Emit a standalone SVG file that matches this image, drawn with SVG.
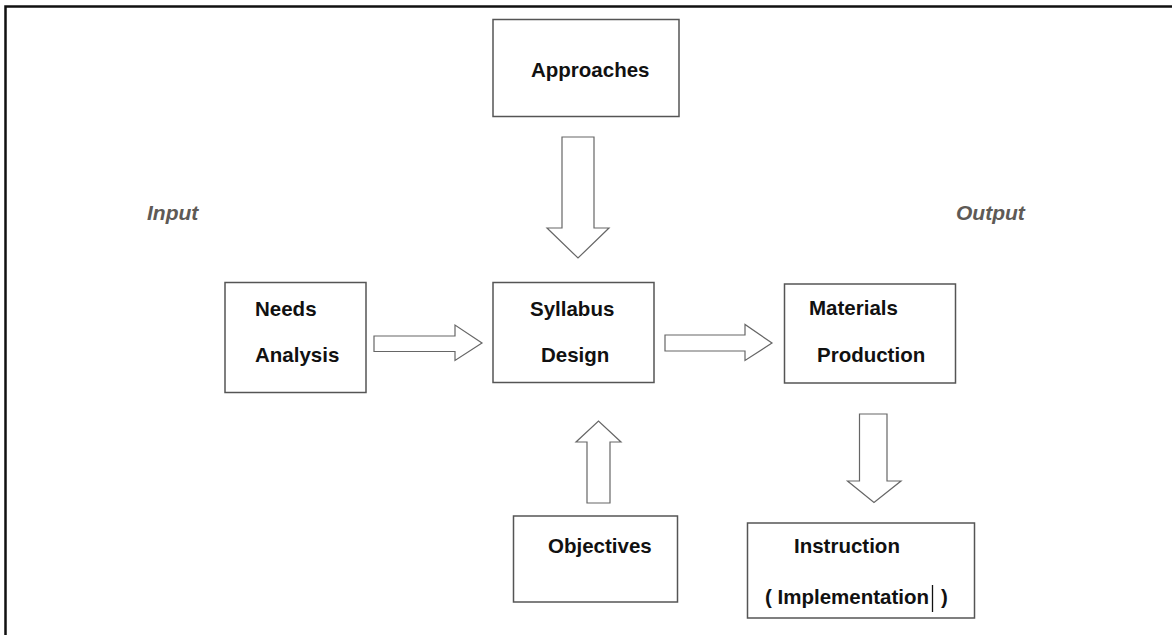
<svg xmlns="http://www.w3.org/2000/svg" width="1172" height="635" viewBox="0 0 1172 635">
<style>
.box{fill:#fff;stroke:#555;stroke-width:1.5}
.arr{fill:#fff;stroke:#666;stroke-width:1.2;stroke-linejoin:miter}
.t{font-family:"Liberation Sans",Arial,sans-serif;font-weight:bold;font-size:20.5px;fill:#111}
.io{font-family:"Liberation Sans",Arial,sans-serif;font-weight:bold;font-style:italic;font-size:21px;fill:#5e5a56}
</style>
<rect width="1172" height="635" fill="#fff"/>
<path d="M5.5 635 V6.5 H1172" fill="none" stroke="#111" stroke-width="2.5"/>
<text class="io" x="147" y="220">Input</text>
<text class="io" x="956" y="220">Output</text>
<g id="approaches"><rect class="box" x="493" y="19.5" width="186" height="97"/><text class="t" x="531" y="77">Approaches</text></g>
<g id="needs"><rect class="box" x="225" y="282.5" width="141" height="110"/><text class="t" x="255" y="315.5">Needs</text><text class="t" x="255" y="362">Analysis</text></g>
<g id="syllabus"><rect class="box" x="493" y="282.5" width="161" height="100"/><text class="t" x="530" y="315.5">Syllabus</text><text class="t" x="541" y="362">Design</text></g>
<g id="materials"><rect class="box" x="784.5" y="284" width="171" height="99"/><text class="t" x="809" y="315">Materials</text><text class="t" x="817" y="362">Production</text></g>
<g id="objectives"><rect class="box" x="513.5" y="516" width="164" height="86"/><text class="t" x="548" y="553">Objectives</text></g>
<g id="instruction"><rect class="box" x="747.5" y="523" width="227" height="95"/><text class="t" x="794" y="553">Instruction</text><text class="t" x="765" y="604">( Implementation</text><line x1="932.5" y1="585" x2="932.5" y2="612" stroke="#111" stroke-width="1.3"/><text class="t" x="941" y="604">)</text></g>
<g id="connectors">
<path class="arr" d="M562 137 H594 V228 H609 L578 258 L547 228 H562 Z"/>
<path class="arr" d="M374 336 H455 V325 L482 343 L455 360.5 V351.5 H374 Z"/>
<path class="arr" d="M665 335 H745 V324.5 L772 343 L745 360.5 V351 H665 Z"/>
<path class="arr" d="M587 503 V442 H576 L598.5 421 L621 442 H610 V503 Z"/>
<path class="arr" d="M859.5 414 H887 V481 H901 L874 502.5 L847.5 481 H859.5 Z"/>
</g>
</svg>
